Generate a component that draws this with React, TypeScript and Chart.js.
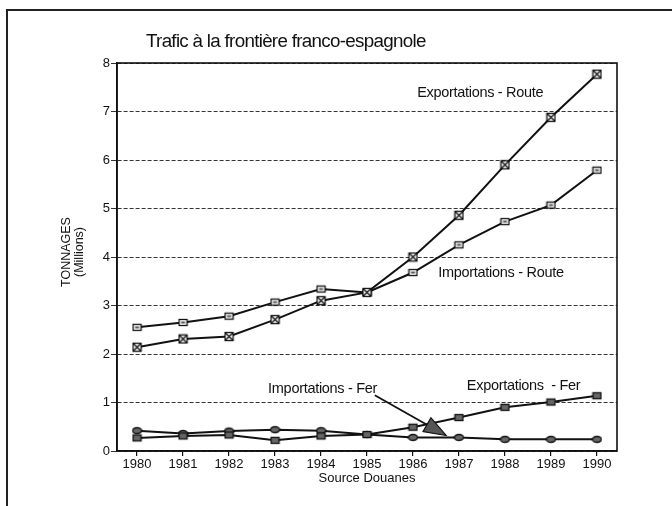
import React, { useEffect, useRef } from "react";
import { Chart, registerables } from "chart.js";

Chart.register(...registerables);

// ---- data ----
const years = [1980, 1981, 1982, 1983, 1984, 1985, 1986, 1987, 1988, 1989, 1990];
const exportRoute = [2.14, 2.31, 2.36, 2.71, 3.1, 3.27, 4.0, 4.86, 5.9, 6.88, 7.77];
const importRoute = [2.55, 2.65, 2.78, 3.07, 3.34, 3.27, 3.68, 4.25, 4.73, 5.07, 5.79];
const exportFer = [0.27, 0.31, 0.33, 0.22, 0.31, 0.34, 0.49, 0.69, 0.9, 1.01, 1.14];
const importFer = [0.42, 0.36, 0.41, 0.44, 0.42, 0.34, 0.28, 0.28, 0.24, 0.24, 0.24];
const yTicks = [0, 1, 2, 3, 4, 5, 6, 7, 8];

const title = "Trafic à la frontière franco-espagnole";
const yTitle = ["TONNAGES", "(Millions)"];
const xTitle = "Source Douanes";

// labels anchored in data coordinates (year, value)
const seriesLabels = [
  { text: "Exportations - Route", x: 1986.09, y: 7.38 },
  { text: "Importations - Route", x: 1986.55, y: 3.67 },
  { text: "Importations - Fer", x: 1982.85, y: 1.28 },
  { text: "Exportations  - Fer", x: 1987.17, y: 1.34 },
];
const arrowFrom = { x: 1985.17, y: 1.15 };
const arrowTo = { x: 1986.72, y: 0.32 };

function makeMarker(kind: string): HTMLCanvasElement {
  const c = document.createElement("canvas");
  c.width = 11;
  c.height = 11;
  const g = c.getContext("2d")!;
  g.strokeStyle = "#111";
  g.lineWidth = 1.3;
  if (kind === "bowtie") {
    g.fillStyle = "#fff";
    g.fillRect(1.5, 1.5, 8, 8);
    g.strokeRect(1.5, 1.5, 8, 8);
    g.beginPath();
    g.moveTo(1.5, 1.5);
    g.lineTo(9.5, 9.5);
    g.moveTo(9.5, 1.5);
    g.lineTo(1.5, 9.5);
    g.stroke();
  } else if (kind === "square") {
    g.fillStyle = "#fff";
    g.fillRect(1.5, 2.5, 8, 6);
    g.strokeRect(1.5, 2.5, 8, 6);
    g.fillStyle = "#555";
    g.fillRect(3.5, 4.5, 4, 2);
  } else if (kind === "ferRect") {
    g.fillStyle = "#666";
    g.fillRect(1.5, 2.5, 8, 6);
    g.strokeRect(1.5, 2.5, 8, 6);
  } else {
    g.fillStyle = "#666";
    g.beginPath();
    g.ellipse(5.5, 5.5, 4.5, 3, 0, 0, Math.PI * 2);
    g.fill();
    g.stroke();
  }
  return c;
}

const decor = {
  id: "decor",
  afterDraw(chart: any) {
    const { ctx, chartArea: a, scales } = chart;
    const xs = scales.x;
    const ys = scales.y;
    ctx.save();
    // outer frame
    ctx.strokeStyle = "#222";
    ctx.lineWidth = 2;
    ctx.beginPath();
    ctx.moveTo(7, 506);
    ctx.lineTo(7, 10);
    ctx.lineTo(672, 10);
    ctx.stroke();
    // plot frame
    ctx.strokeStyle = "#111";
    ctx.lineWidth = 1.6;
    ctx.strokeRect(a.left, a.top, a.right - a.left, a.bottom - a.top);

    ctx.fillStyle = "#111";
    // title
    ctx.font = "18.8px Arial, 'Liberation Sans', sans-serif";
    (ctx as any).letterSpacing = "-0.7px";
    ctx.textAlign = "left";
    ctx.textBaseline = "middle";
    ctx.fillText(title, 146, 42);
    (ctx as any).letterSpacing = "0px";

    // y title
    ctx.font = "12.5px Arial, 'Liberation Sans', sans-serif";
    ctx.save();
    ctx.translate(67, 252);
    ctx.rotate(-Math.PI / 2);
    ctx.textAlign = "center";
    ctx.textBaseline = "middle";
    ctx.fillText(yTitle[0], 0, 0);
    ctx.fillText(yTitle[1], 0, 13);
    ctx.restore();

    // x title
    ctx.font = "13px Arial, 'Liberation Sans', sans-serif";
    ctx.textAlign = "center";
    ctx.textBaseline = "middle";
    ctx.fillText(xTitle, (a.left + a.right) / 2, 478);

    // series labels
    ctx.font = "14.5px Arial, 'Liberation Sans', sans-serif";
    (ctx as any).letterSpacing = "-0.3px";
    ctx.textAlign = "left";
    for (const l of seriesLabels) {
      ctx.fillText(l.text, xs.getPixelForValue(l.x), ys.getPixelForValue(l.y));
    }
    (ctx as any).letterSpacing = "0px";

    // arrow
    const x1 = xs.getPixelForValue(arrowFrom.x);
    const y1 = ys.getPixelForValue(arrowFrom.y);
    const x2 = xs.getPixelForValue(arrowTo.x);
    const y2 = ys.getPixelForValue(arrowTo.y);
    const ang = Math.atan2(y2 - y1, x2 - x1);
    const len = 22;
    const half = 8;
    const bx = x2 - len * Math.cos(ang);
    const by = y2 - len * Math.sin(ang);
    ctx.strokeStyle = "#111";
    ctx.lineWidth = 1.8;
    ctx.beginPath();
    ctx.moveTo(x1, y1);
    ctx.lineTo(bx, by);
    ctx.stroke();
    ctx.fillStyle = "#555";
    ctx.beginPath();
    ctx.moveTo(x2, y2);
    ctx.lineTo(bx - half * Math.sin(ang), by + half * Math.cos(ang));
    ctx.lineTo(bx + half * Math.sin(ang), by - half * Math.cos(ang));
    ctx.closePath();
    ctx.fill();
    ctx.lineWidth = 1.2;
    ctx.stroke();
    ctx.restore();
  },
};

export default function App() {
  const ref = useRef<HTMLCanvasElement | null>(null);
  useEffect(() => {
    if (!ref.current) return;
    const mk = (vals: number[]) => years.map((y, i) => ({ x: y, y: vals[i] }));
    const base = {
      borderColor: "#111",
      borderWidth: 2,
      pointRadius: 5,
      fill: false,
      tension: 0,
    };
    const chart = new Chart(ref.current, {
      type: "line",
      data: {
        datasets: [
          { ...base, label: "Exportations - Route", data: mk(exportRoute), pointStyle: makeMarker("bowtie") as any },
          { ...base, label: "Importations - Route", data: mk(importRoute), pointStyle: makeMarker("square") as any },
          { ...base, label: "Exportations - Fer", data: mk(exportFer), pointStyle: makeMarker("ferRect") as any },
          { ...base, label: "Importations - Fer", data: mk(importFer), pointStyle: makeMarker("ferOval") as any },
        ],
      },
      options: {
        responsive: false,
        animation: false,
        layout: { padding: { left: 0, top: 63, right: 55, bottom: 0 } },
        plugins: { legend: { display: false }, tooltip: { enabled: false }, title: { display: false } },
        scales: {
          x: {
            type: "linear",
            min: 1979.565,
            max: 1990.435,
            afterFit: (s: any) => {
              s.height = 55;
            },
            afterBuildTicks: (s: any) => {
              s.ticks = years.map((v) => ({ value: v }));
            },
            ticks: {
              color: "#111",
              font: { family: "Arial, 'Liberation Sans', sans-serif", size: 13 },
              padding: 1,
              maxRotation: 0,
              autoSkip: false,
              callback: (v: any) => String(v),
            },
            grid: { display: true, drawOnChartArea: false, drawTicks: true, tickLength: 5, color: "#111", lineWidth: 1.2 },
            border: { display: true, color: "#111", width: 1.6 },
          },
          y: {
            min: 0,
            max: 8,
            afterFit: (s: any) => {
              s.width = 117;
            },
            afterBuildTicks: (s: any) => {
              s.ticks = yTicks.map((v) => ({ value: v }));
            },
            ticks: {
              color: "#111",
              font: { family: "Arial, 'Liberation Sans', sans-serif", size: 13 },
              padding: 1,
              callback: (v: any) => String(v),
            },
            grid: { display: true, drawOnChartArea: true, drawTicks: true, tickLength: 6, color: "#333", lineWidth: 1 },
            border: { display: true, color: "#111", width: 1.6, dash: [4, 2] },
          },
        },
      },
      plugins: [decor],
    } as any);
    return () => chart.destroy();
  }, []);
  return (
    <div style={{ position: "absolute", left: 0, top: 0, width: 672, height: 506, background: "#fff" }}>
      <canvas ref={ref} width={672} height={506} style={{ display: "block", width: 672, height: 506 }} />
    </div>
  );
}
